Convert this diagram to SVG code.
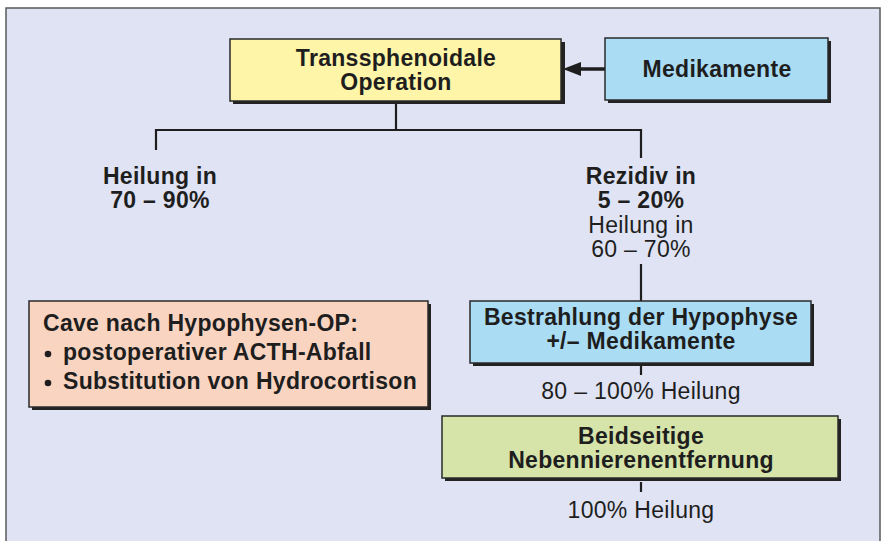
<svg xmlns="http://www.w3.org/2000/svg" width="884" height="541" viewBox="0 0 884 541">
<defs>
<style>
.t{font-family:"Liberation Sans",Arial,Helvetica,sans-serif;font-size:23px;fill:#1e1e1e;letter-spacing:0.3px}
.b{font-weight:bold}
.c{text-anchor:middle}
.box{stroke:#2a2a2a;stroke-width:1.5}
.sh{fill:#222}
.ln{stroke:#1e1e1e;stroke-width:2.2;fill:none}
</style>
</defs>
<rect x="0" y="0" width="884" height="541" fill="#ffffff"/>
<rect x="6" y="8" width="874" height="540" fill="#dfe3f3" stroke="#5a5a5a" stroke-width="1.5"/>
<g id="connectors">
<path class="ln" d="M396,102 V130 M156,130 H642 M156,129 V150 M641,129 V158"/>
<path class="ln" d="M641,264 V301"/>
<path class="ln" d="M641,366 V375"/>
<path class="ln" d="M641,482 V492"/>
<line x1="605" y1="69" x2="578" y2="69" stroke="#1e1e1e" stroke-width="3.5"/>
<polygon points="563,69 581,62 581,76" fill="#1e1e1e"/>
</g>
<g id="op">
<rect class="sh" x="233" y="42" width="332" height="62"/>
<rect class="box" x="230" y="39" width="331" height="62" fill="#fff5a8"/>
<text class="t b c" x="396" y="66">Transsphenoidale</text>
<text class="t b c" x="396" y="90">Operation</text>
</g>
<g id="med">
<rect class="sh" x="608" y="41" width="223" height="62"/>
<rect class="box" x="605" y="38" width="223" height="62" fill="#aadcf4"/>
<text class="t b c" x="717" y="77">Medikamente</text>
</g>
<g id="heil">
<text class="t b c" x="160" y="184">Heilung in</text>
<text class="t b c" x="160" y="208">70 – 90%</text>
</g>
<g id="rez">
<text class="t b c" x="641" y="184">Rezidiv in</text>
<text class="t b c" x="641" y="208">5 – 20%</text>
<text class="t c" x="641" y="233">Heilung in</text>
<text class="t c" x="641" y="257">60 – 70%</text>
</g>
<g id="cave">
<rect class="sh" x="32" y="304" width="399" height="106"/>
<rect class="box" x="29" y="301" width="399" height="106" fill="#f9d4c1"/>
<text class="t b" x="43" y="331">Cave nach Hypophysen-OP:</text>
<circle cx="48" cy="354" r="3.3" fill="#1e1e1e"/>
<text class="t b" x="63" y="360">postoperativer ACTH-Abfall</text>
<circle cx="48" cy="383" r="3.3" fill="#1e1e1e"/>
<text class="t b" x="63" y="389">Substitution von Hydrocortison</text>
</g>
<g id="bestr">
<rect class="sh" x="473" y="304" width="341" height="62"/>
<rect class="box" x="470" y="301" width="341" height="62" fill="#aadcf4"/>
<text class="t b c" x="641" y="325">Bestrahlung der Hypophyse</text>
<text class="t b c" x="641" y="349">+/– Medikamente</text>
</g>
<text class="t c" x="641" y="399">80 – 100% Heilung</text>
<g id="neben">
<rect class="sh" x="445" y="419" width="396" height="62"/>
<rect class="box" x="442" y="416" width="396" height="62" fill="#d6e4aa"/>
<text class="t b c" x="641" y="444">Beidseitige</text>
<text class="t b c" x="641" y="468">Nebennierenentfernung</text>
</g>
<text class="t c" x="641" y="518">100% Heilung</text>
</svg>
